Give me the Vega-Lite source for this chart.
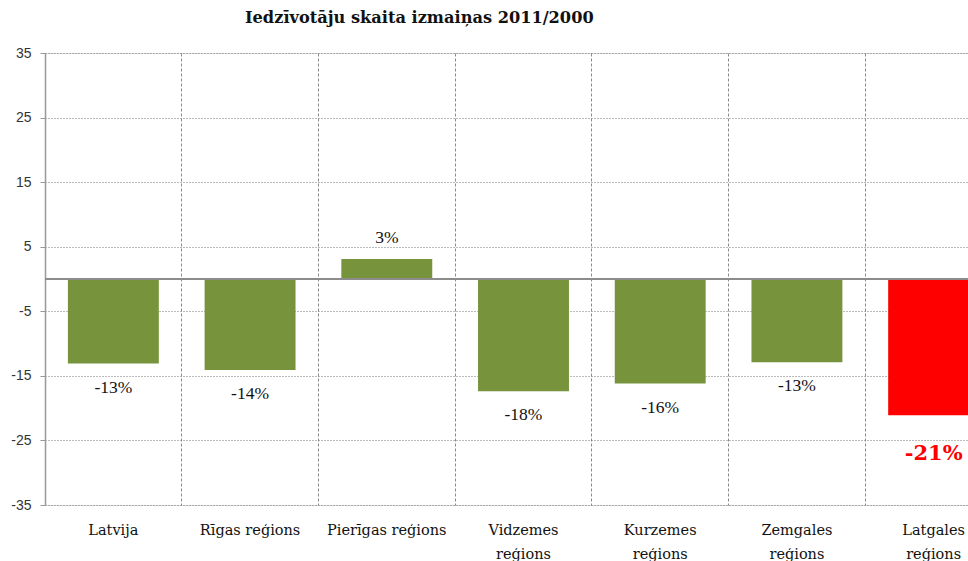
{
  "$schema": "https://vega.github.io/schema/vega-lite/v6.json",
  "autosize": "none",
  "padding": {"left": 45, "top": 53, "right": 0, "bottom": 56},
  "width": 957,
  "height": 452,
  "background": "white",
  "title": {
    "text": "Iedzīvotāju skaita izmaiņas 2011/2000",
    "anchor": "start",
    "frame": "group",
    "dx": 200,
    "offset": 20,
    "font": "DejaVu Serif",
    "fontSize": 16.2,
    "fontWeight": "bold",
    "color": "#111"
  },
  "data": {
    "values": [
      {"region": "Latvija", "value": -13.1, "label": "-13%"},
      {"region": "Rīgas reģions", "value": -14.1, "label": "-14%"},
      {"region": "Pierīgas reģions", "value": 3.1, "label": "3%"},
      {"region": "Vidzemes reģions", "value": -17.4, "label": "-18%"},
      {"region": "Kurzemes reģions", "value": -16.2, "label": "-16%"},
      {"region": "Zemgales reģions", "value": -12.9, "label": "-13%"},
      {"region": "Latgales reģions", "value": -21.1, "label": "-21%"}
    ]
  },
  "encoding": {
    "x": {
      "field": "region",
      "type": "nominal",
      "sort": null,
      "scale": {"paddingInner": 0, "paddingOuter": 0},
      "axis": {
        "title": null,
        "bandPosition": 0,
        "domain": false,
        "ticks": false,
        "labelAngle": 0,
        "labelPadding": 18,
        "labelFont": "DejaVu Serif",
        "labelFontSize": 14.5,
        "labelColor": "#111",
        "labelLineHeight": 24,
        "labelBaseline": "top",
        "labelExpr": "indexof(['Latvija','Rīgas reģions','Pierīgas reģions'], datum.label) >= 0 ? datum.label : split(datum.label, ' ')",
        "grid": true,
        "gridColor": "#8a8a8a",
        "gridDash": [3, 2],
        "gridWidth": 1
      }
    },
    "y": {
      "field": "value",
      "type": "quantitative",
      "scale": {"domain": [-35, 35], "nice": false, "zero": false},
      "axis": {
        "title": null,
        "values": [-35, -25, -15, -5, 5, 15, 25, 35],
        "labelExpr": "replace(datum.label, '−', '-')",
        "domain": true,
        "domainColor": "#999",
        "domainWidth": 1.5,
        "tickColor": "#999",
        "tickSize": 5,
        "labelPadding": 9,
        "labelFont": "Liberation Sans",
        "labelFontSize": 14,
        "labelColor": "#333",
        "grid": true,
        "gridColor": "#777",
        "gridDash": [1, 2],
        "gridWidth": 1
      }
    }
  },
  "layer": [
    {
      "mark": {"type": "bar", "width": {"band": 0.665}},
      "encoding": {
        "color": {
          "condition": {"test": "datum.region === 'Latgales reģions'", "value": "#FF0000"},
          "value": "#77933C"
        }
      }
    },
    {
      "mark": {"type": "rule", "color": "#8c8c8c", "strokeWidth": 1.5},
      "encoding": {"y": {"datum": 0}, "x": {"value": 0}, "x2": {"value": 957}}
    },
    {
      "transform": [{"filter": "datum.value < 0 && datum.region !== 'Latgales reģions'"}],
      "mark": {"type": "text", "dy": 24, "font": "Liberation Serif", "fontSize": 17.5, "color": "#111"},
      "encoding": {"text": {"field": "label"}}
    },
    {
      "transform": [{"filter": "datum.value >= 0"}],
      "mark": {"type": "text", "dy": -21, "font": "Liberation Serif", "fontSize": 17.5, "color": "#111"},
      "encoding": {"text": {"field": "label"}}
    },
    {
      "transform": [{"filter": "datum.region === 'Latgales reģions'"}],
      "mark": {"type": "text", "dy": 39, "font": "DejaVu Serif", "fontSize": 21, "fontWeight": "bold", "color": "#FF0000"},
      "encoding": {"text": {"field": "label"}}
    }
  ]
}
